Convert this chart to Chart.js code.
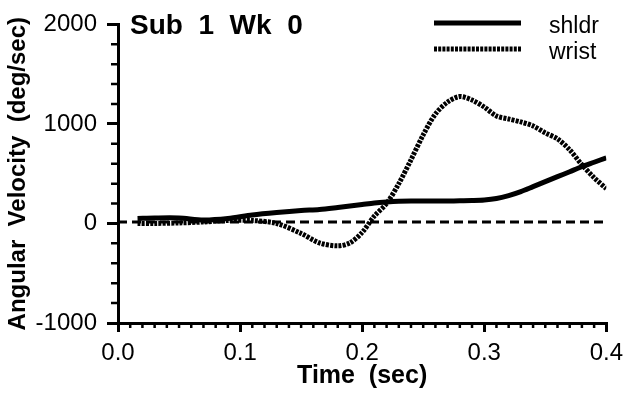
<!DOCTYPE html>
<html>
<head>
<meta charset="utf-8">
<script src="https://cdn.jsdelivr.net/npm/chart.js@4"></script>
<style>
  html, body { margin: 0; padding: 0; background: #fff; }
  #wrap { width: 630px; height: 393px; }
</style>
</head>
<body>
<div id="wrap"><canvas id="myChart"></canvas></div>
<script>
let chartTitle = 'Sub  1  Wk  0';
let times = [0.016, 0.03, 0.05, 0.07, 0.09, 0.11, 0.13, 0.15, 0.165, 0.18, 0.19, 0.2, 0.21, 0.22, 0.23, 0.24,
  0.25, 0.26, 0.27, 0.28, 0.29, 0.3, 0.31, 0.32, 0.33, 0.34, 0.35, 0.36, 0.37, 0.38, 0.39, 0.4];
let shldr = [50, 55, 55, 35, 50, 85, 110, 130, 140, 160, 175, 190, 205, 215, 222, 225,
  225, 225, 226, 228, 230, 235, 250, 280, 320, 370, 420, 470, 520, 570, 615, 660];
let wrist = [0, 0, 5, 15, 30, 30, 0, -100, -195, -225, -195, -90, 75, 200, 400, 640,
  890, 1100, 1220, 1275, 1240, 1170, 1080, 1050, 1020, 980, 910, 850, 740, 590, 460, 350];
let refTimes = [0.0, 0.4];
let refValues = [15, 15];
let xTicks = [0.0, 0.1, 0.2, 0.3, 0.4];
let yTicks = [-1000, 0, 1000, 2000];

const font = "'Liberation Sans', Arial, Helvetica, sans-serif";

function toPoints(xs, ys) {
  let pts = [];
  for (let i = 0; i < xs.length; i++) {
    pts.push({ x: xs[i], y: ys[i] });
  }
  return pts;
}

// small ticks between the labelled ones
const minorTicks = {
  id: 'minorTicks',
  afterDraw(chart) {
    const { ctx, scales: { x, y } } = chart;
    ctx.save();
    ctx.strokeStyle = '#000';
    ctx.lineWidth = 2.5;
    ctx.beginPath();
    for (let v = -1000; v <= 2000; v += 200) {
      if (v % 1000 === 0) continue;
      const py = y.getPixelForValue(v);
      ctx.moveTo(x.left - 7, py);
      ctx.lineTo(x.left, py);
    }
    for (let i = 1; i < 40; i++) {
      if (i % 10 === 0) continue;
      const px = x.getPixelForValue(i / 100);
      ctx.moveTo(px, y.bottom);
      ctx.lineTo(px, y.bottom + 5);
    }
    ctx.stroke();
    ctx.restore();
  }
};

// title inside the plot and the legend at top right
const titleAndKey = {
  id: 'titleAndKey',
  afterDraw(chart) {
    const ctx = chart.ctx;
    ctx.save();
    ctx.fillStyle = '#000';
    ctx.textBaseline = 'alphabetic';
    ctx.font = `bold 28px ${font}`;
    ctx.fillText(chartTitle, 130, 34);

    ctx.font = `23px ${font}`;
    const keys = chart.data.datasets.slice(0, 2);
    keys.forEach((ds, i) => {
      const ly = 23 + i * 26;
      ctx.strokeStyle = '#000';
      ctx.lineWidth = ds.borderWidth;
      ctx.setLineDash(ds.borderDash || []);
      ctx.beginPath();
      ctx.moveTo(434, ly);
      ctx.lineTo(521, ly);
      ctx.stroke();
      ctx.setLineDash([]);
      ctx.fillText(ds.label, 549, ly + 10);
    });
    ctx.restore();
  }
};

const ctx = document.getElementById('myChart');
new Chart(ctx, {
  type: 'line',
  data: {
    datasets: [
      {
        label: 'shldr',
        data: toPoints(times, shldr),
        borderColor: '#000',
        borderWidth: 5,
        pointRadius: 0,
        tension: 0.3,
      },
      {
        label: 'wrist',
        data: toPoints(times, wrist),
        borderColor: '#000',
        borderWidth: 5,
        borderDash: [3, 1.2],
        pointRadius: 0,
        tension: 0.3,
      },
      {
        label: 'zero',
        data: toPoints(refTimes, refValues),
        borderColor: '#000',
        borderWidth: 3,
        borderDash: [9, 5],
        pointRadius: 0,
      },
    ],
  },
  options: {
    responsive: true,
    maintainAspectRatio: false,
    animation: false,
    layout: { padding: { top: 24, right: 22, left: 0, bottom: 0 } },
    plugins: {
      legend: { display: false },
      tooltip: { enabled: false },
    },
    scales: {
      x: {
        type: 'linear',
        min: 0,
        max: 0.4,
        afterFit: (s) => { s.height = 70; },
        afterBuildTicks: (s) => { s.ticks = xTicks.map((v) => ({ value: v })); },
        border: { color: '#000', width: 3 },
        grid: { drawOnChartArea: false, color: '#000', lineWidth: 3, tickLength: 9 },
        ticks: {
          color: '#000',
          font: { family: font, size: 24 },
          padding: 7,
          maxRotation: 0,
          callback: (v) => Number(v).toFixed(1),
        },
        title: {
          display: true,
          text: 'Time  (sec)',
          color: '#000',
          font: { family: font, size: 25, weight: 'bold' },
          padding: { top: 0, bottom: 2 },
        },
      },
      y: {
        min: -1000,
        max: 2000,
        afterFit: (s) => { s.width = 118; },
        afterBuildTicks: (s) => { s.ticks = yTicks.map((v) => ({ value: v })); },
        border: { color: '#000', width: 3 },
        grid: { drawOnChartArea: false, color: '#000', lineWidth: 3, tickLength: 11 },
        ticks: {
          color: '#000',
          font: { family: font, size: 24 },
          padding: 10,
          callback: (v) => String(v),
        },
        title: {
          display: true,
          text: 'Angular  Velocity  (deg/sec)',
          color: '#000',
          font: { family: font, size: 24, weight: 'bold' },
          padding: { top: 4, bottom: 0 },
        },
      },
    },
  },
  plugins: [minorTicks, titleAndKey],
});
</script>
</body>
</html>
